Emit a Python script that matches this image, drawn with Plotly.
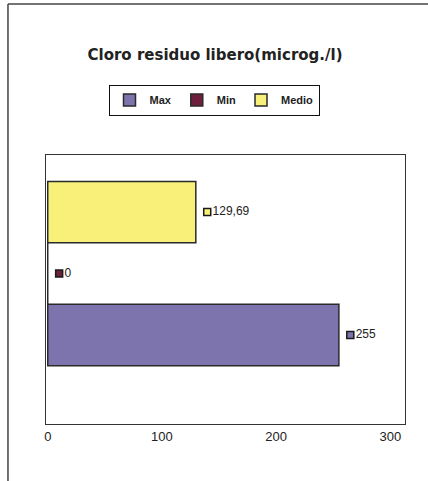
import plotly.graph_objects as go

# Data
series = ["Max", "Min", "Medio"]
values = [255, 0, 129.69]
value_labels = ["255", "0", "129,69"]
positions = [0, 1, 2]
colors = ["#7d74ad", "#6e1f3d", "#f9f07a"]
tick_vals = [0, 100, 200, 300]
tick_text = ["0", "100", "200", "300"]
title_text = "Cloro residuo libero(microg./l)"

W, H = 428, 481
FONT = "Arial, Liberation Sans, sans-serif"
TFONT = "DejaVu Sans, sans-serif"

fig = go.Figure()
for name, v, p, c in zip(series, values, positions, colors):
    fig.add_trace(go.Bar(
        x=[v], y=[p], orientation="h", name="<b>" + name + "</b>", width=1.0,
        marker=dict(color=c, line=dict(color="#2a2a2a", width=1.5)),
        showlegend=True,
    ))

label_offset = 10
for name, v, p, c, t in zip(series, values, positions, colors, value_labels):
    fig.add_trace(go.Scatter(
        x=[v + label_offset], y=[p], mode="markers+text",
        marker=dict(symbol="square", size=7, color=c, line=dict(color="#1a1a1a", width=1.5)),
        text=[t], textposition="middle right",
        textfont=dict(family=FONT, size=12, color="#222"),
        showlegend=False, hoverinfo="skip", cliponaxis=False,
    ))

fig.update_layout(
    width=W, height=H,
    margin=dict(l=0, r=0, t=0, b=0),
    paper_bgcolor="white", plot_bgcolor="white",
    barmode="overlay",
    title=dict(text="<b>" + title_text + "</b>", x=215 / W, xanchor="center",
               y=1 - 55 / H, yanchor="middle",
               font=dict(family=TFONT, size=15, color="#222")),
    legend=dict(orientation="h", x=213 / W, xanchor="center", y=1 - 100 / H, yanchor="middle",
                bordercolor="#111", borderwidth=1, bgcolor="white",
                font=dict(family=FONT, size=11, color="#222"),
                itemwidth=30, traceorder="normal", tracegroupgap=0),
    xaxis=dict(domain=[44 / W, 405 / W], range=[-1.7, 313], tickvals=tick_vals, ticktext=tick_text,
               showgrid=False, zeroline=False, showline=True, linecolor="#333", linewidth=1,
               mirror=True, ticks="", tickfont=dict(family=FONT, size=13, color="#222")),
    yaxis=dict(domain=[1 - 424 / H, 1 - 155 / H], range=[-1.45, 2.93], showticklabels=False,
               showgrid=False, zeroline=False, showline=True, linecolor="#333", linewidth=1,
               mirror=True, ticks=""),
    shapes=[
        dict(type="line", xref="paper", yref="paper", x0=6 / W, x1=1, y0=1 - 4 / H, y1=1 - 4 / H,
             line=dict(color="#444", width=1.5)),
        dict(type="line", xref="paper", yref="paper", x0=6 / W, x1=6 / W, y0=0, y1=1 - 4 / H,
             line=dict(color="#444", width=1.5)),
    ],
    showlegend=True,
)

fig.write_html("out.html", config={"displayModeBar": False},
               post_script="document.body.style.margin='0';")
